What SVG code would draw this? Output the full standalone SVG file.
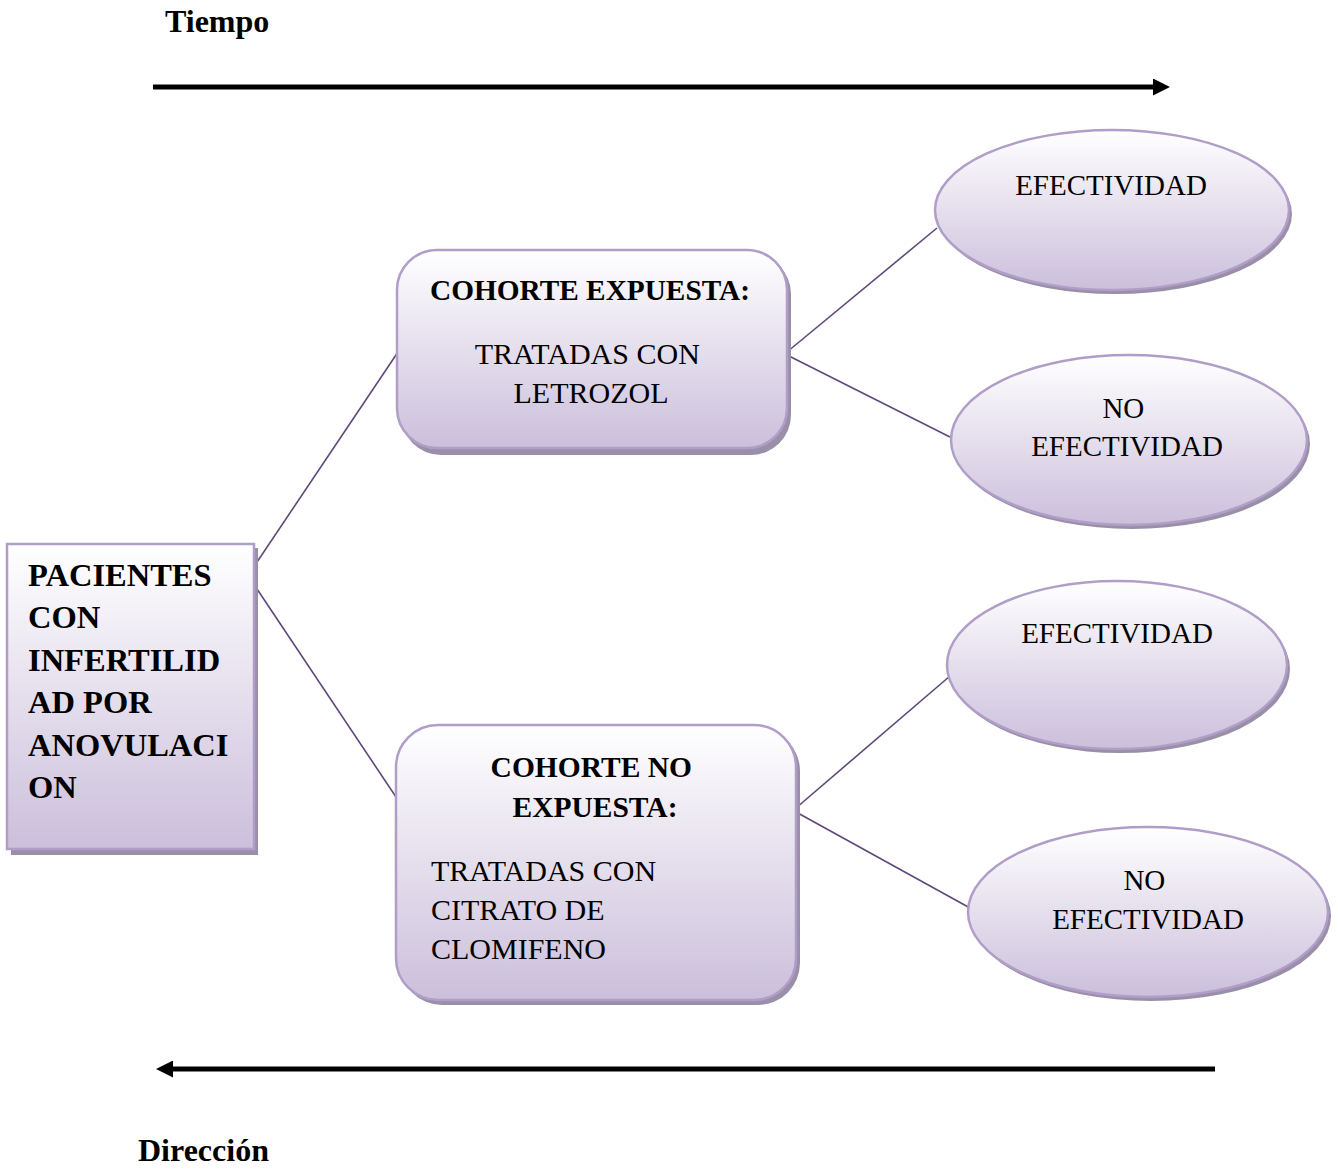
<svg xmlns="http://www.w3.org/2000/svg" width="1338" height="1174" viewBox="0 0 1338 1174">
<style>
.shape{fill:url(#g);stroke:#b09ec8;stroke-width:2.5}
.shadow{fill:#9a8fa8}
.b{font-family:"Liberation Serif","Times New Roman",serif;font-weight:bold;fill:#000}
.r{font-family:"Liberation Serif","Times New Roman",serif;fill:#000}
.c{stroke:#5f497a;stroke-width:1.6;fill:none}
.ax{stroke:#000;stroke-width:5;fill:none}
</style>
<defs>
<linearGradient id="g" x1="0" y1="0" x2="0" y2="1">
<stop offset="0" stop-color="#ffffff"/>
<stop offset="1" stop-color="#cbbfdb"/>
</linearGradient>
<marker id="ah" viewBox="0 0 10 10" refX="0" refY="5" markerWidth="3.6" markerHeight="3.4" orient="auto" markerUnits="strokeWidth">
<path d="M0,0 L10,5 L0,10 Z" fill="#000"/>
</marker>
</defs>
<rect width="1338" height="1174" fill="#fff"/>

<g id="axes">
<text class="b" x="165" y="32" font-size="32">Tiempo</text>
<line class="ax" x1="153" y1="87" x2="1153" y2="87" marker-end="url(#ah)"/>
<line class="ax" x1="1215" y1="1069" x2="173" y2="1069" marker-end="url(#ah)"/>
<text class="b" x="138" y="1161" font-size="32">Dirección</text>
</g>

<g id="connectors">
<line class="c" x1="253" y1="568" x2="398" y2="352"/>
<line class="c" x1="253" y1="583" x2="398" y2="800"/>
<line class="c" x1="787" y1="352" x2="937" y2="228"/>
<line class="c" x1="787" y1="355" x2="950" y2="437"/>
<line class="c" x1="796" y1="808" x2="950" y2="676"/>
<line class="c" x1="796" y1="812" x2="970" y2="908"/>
</g>

<g id="pacientes">
<rect class="shadow" x="11" y="548" width="247" height="307"/>
<rect class="shape" x="7" y="544" width="247" height="305"/>
<text class="b" font-size="32.5" x="28">
<tspan x="28" y="586">PACIENTES</tspan>
<tspan x="28" y="628">CON</tspan>
<tspan x="28" y="671">INFERTILID</tspan>
<tspan x="28" y="713">AD POR</tspan>
<tspan x="28" y="756">ANOVULACI</tspan>
<tspan x="28" y="798">ON</tspan>
</text>
</g>

<g id="cohorte-expuesta">
<rect class="shadow" x="401" y="254" width="390" height="201" rx="40"/>
<rect class="shape" x="397" y="250" width="390" height="198" rx="40"/>
<text class="b" font-size="29.3" x="590" y="300" text-anchor="middle">COHORTE EXPUESTA:</text>
<text class="r" font-size="30" text-anchor="middle">
<tspan x="591" y="364">TRATADAS CON</tspan>
<tspan x="591" y="403">LETROZOL</tspan>
</text>
</g>

<g id="cohorte-no-expuesta">
<rect class="shadow" x="400" y="729" width="400" height="276" rx="42"/>
<rect class="shape" x="396" y="725" width="400" height="275" rx="42"/>
<text class="b" font-size="29.5" text-anchor="middle">
<tspan x="595" y="777">COHORTE NO</tspan>
<tspan x="595" y="817">EXPUESTA:</tspan>
</text>
<text class="r" font-size="30">
<tspan x="431" y="881">TRATADAS CON</tspan>
<tspan x="431" y="920">CITRATO DE</tspan>
<tspan x="431" y="959">CLOMIFENO</tspan>
</text>
</g>

<g id="efectividad-1">
<ellipse class="shadow" cx="1115" cy="214" rx="177" ry="80"/>
<ellipse class="shape" cx="1112" cy="210" rx="177" ry="80"/>
<text class="r" font-size="29" x="1111" y="195" text-anchor="middle">EFECTIVIDAD</text>
</g>

<g id="no-efectividad-1">
<ellipse class="shadow" cx="1132" cy="444" rx="178" ry="85"/>
<ellipse class="shape" cx="1129" cy="440" rx="178" ry="85"/>
<text class="r" font-size="29" text-anchor="middle">
<tspan x="1127" y="418">NO</tspan>
<tspan x="1127" y="456">EFECTIVIDAD</tspan>
</text>
</g>

<g id="efectividad-2">
<ellipse class="shadow" cx="1120" cy="669" rx="170" ry="84"/>
<ellipse class="shape" cx="1117" cy="665" rx="170" ry="84"/>
<text class="r" font-size="29" x="1117" y="643" text-anchor="middle">EFECTIVIDAD</text>
</g>

<g id="no-efectividad-2">
<ellipse class="shadow" cx="1151" cy="916" rx="180" ry="85"/>
<ellipse class="shape" cx="1148" cy="912" rx="180" ry="85"/>
<text class="r" font-size="29" text-anchor="middle">
<tspan x="1148" y="890">NO</tspan>
<tspan x="1148" y="929">EFECTIVIDAD</tspan>
</text>
</g>
</svg>
